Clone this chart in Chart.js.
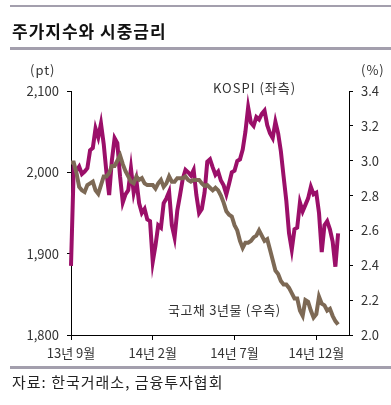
<!DOCTYPE html>
<html>
<head>
<meta charset="utf-8">
<script src="https://cdn.jsdelivr.net/npm/chart.js@4/dist/chart.umd.min.js"></script>
<style>
  body { margin: 0; background: #fff; }
  #wrap { position: relative; width: 391px; height: 405px; font-family: 'Noto Sans CJK KR', sans-serif; color: #222; }
  #chart { position: absolute; left: 0; top: 0; }
  .rule { position: absolute; left: 10px; right: 0; background: #a39fad; }
  .txt { position: absolute; white-space: nowrap; line-height: 1; }
</style>
</head>
<body>
<div id="wrap">
  <canvas id="chart" width="391" height="405"></canvas>
  <div class="rule" style="top:5px;height:2px"></div>
  <div class="txt" style="left:12px;top:22px;font-size:17px;font-weight:bold;color:#111;letter-spacing:1px">주가지수와 시중금리</div>
  <div class="rule" style="top:47px;height:3px"></div>
  <div class="txt" style="left:30px;top:63px;font-size:13px;color:#333;letter-spacing:1px">(pt)</div>
  <div class="txt" style="left:361px;top:63px;font-size:13px;color:#333;letter-spacing:1px">(%)</div>
  <div class="txt" style="left:213px;top:81px;font-size:13px;color:#333;letter-spacing:1px">KOSPI (좌측)</div>
  <div class="txt" style="left:168px;top:303px;font-size:13px;color:#333;letter-spacing:0.6px">국고채 3년물 (우측)</div>
  <div class="rule" style="top:366px;height:3px"></div>
  <div class="txt" style="left:12px;top:374px;font-size:15px;color:#222;letter-spacing:1px">자료: 한국거래소, 금융투자협회</div>
</div>
<script>
// --------------------------------
// Data
// --------------------------------

// x axis: Sep 2013 .. Feb 2015, six slots per month
const months = ['2013-09', '2013-10', '2013-11', '2013-12', '2014-01', '2014-02', '2014-03', '2014-04', '2014-05',
    '2014-06', '2014-07', '2014-08', '2014-09', '2014-10', '2014-11', '2014-12', '2015-01', '2015-02'];
const slotDays = ['01', '06', '11', '16', '21', '26'];
const categories = [];
for (let m = 0; m < months.length - 1; m++) {
    for (let d = 0; d < slotDays.length; d++) {
        categories.push(months[m] + '-' + slotDays[d]);
    }
}
categories.push(months[months.length - 1] + '-01');

const tickLabels = ['13년 9월', '14년 2월', '14년 7월', '14년 12월'];
const tickEvery = 30;

// KOSPI (pt, left axis)
const kospi = [
    1885, 2005, 2002, 2007, 1998, 2001, 2005, 2027, 2030, 2054,
    2043, 2060, 2035, 2000, 1972, 2015, 2042, 2036, 1995, 1963,
    1973, 1978, 2005, 1975, 1990, 1962, 1950, 1955, 1942, 1940,
    1890, 1910, 1935, 1932, 1962, 1968, 1976, 1935, 1920, 1953,
    1972, 1992, 2003, 2000, 1996, 2003, 1972, 1950, 1955, 1975,
    2013, 2016, 2006, 1997, 2001, 1990, 1984, 1973, 1986, 2000,
    2002, 2014, 2016, 2028, 2050, 2080, 2061, 2057, 2068, 2065,
    2072, 2076, 2058, 2048, 2042, 2062, 2048, 2026, 1995, 1965,
    1925, 1905, 1930, 1932, 1963, 1952, 1960, 1968, 1982, 1973,
    1975, 1950, 1902, 1935, 1940, 1930, 1915, 1884, 1925
];

// 3-year treasury yield (%, right axis)
const bond3y = [
    2.99, 2.99, 2.93, 2.85, 2.83, 2.82, 2.86, 2.87, 2.88, 2.83,
    2.81, 2.86, 2.91, 2.91, 2.93, 2.97, 2.97, 3.00, 3.03, 2.98,
    2.94, 2.91, 2.88, 2.87, 2.91, 2.89, 2.90, 2.87, 2.86, 2.86,
    2.86, 2.84, 2.87, 2.89, 2.85, 2.87, 2.91, 2.88, 2.88, 2.90,
    2.90, 2.90, 2.91, 2.89, 2.88, 2.89, 2.89, 2.89, 2.87, 2.855,
    2.86, 2.845, 2.83, 2.845, 2.83, 2.80, 2.76, 2.71, 2.69, 2.68,
    2.63, 2.60, 2.54, 2.50, 2.53, 2.53, 2.54, 2.56, 2.57, 2.60,
    2.57, 2.54, 2.55, 2.49, 2.43, 2.37, 2.35, 2.31, 2.29, 2.29,
    2.27, 2.24, 2.21, 2.21, 2.14, 2.11, 2.20, 2.19, 2.14, 2.10,
    2.12, 2.22, 2.18, 2.17, 2.14, 2.15, 2.11, 2.08, 2.06
];

// --------------------------------
// Chart
// --------------------------------

const tickFont = { family: "'Noto Sans CJK KR', sans-serif", size: 13 };

const chart = new Chart(document.getElementById('chart'), {
    type: 'line',
    data: {
        labels: categories,
        datasets: [{
            label: '국고채 3년물',
            data: bond3y,
            yAxisID: 'yR',
            borderColor: '#7d6955',
            borderWidth: 4,
            pointRadius: 0,
            order: 0
        }, {
            label: 'KOSPI',
            data: kospi,
            yAxisID: 'yL',
            borderColor: '#9b0f69',
            borderWidth: 4,
            pointRadius: 0,
            order: 1
        }]
    },
    options: {
        responsive: false,
        animation: false,
        layout: { padding: { top: 91, left: 0, right: 0, bottom: 0 } },
        plugins: {
            legend: { display: false },
            tooltip: { enabled: false }
        },
        scales: {
            x: {
                type: 'category',
                offset: false,
                border: { display: true, color: '#000', width: 1 },
                grid: { drawOnChartArea: false, color: '#000', tickLength: 5 },
                ticks: {
                    autoSkip: false,
                    maxRotation: 0,
                    color: '#333',
                    font: tickFont,
                    padding: 5,
                    callback: function(value, index) {
                        return index % tickEvery === 0 ? tickLabels[index / tickEvery] : null;
                    }
                },
                afterFit: function(scale) { scale.height = 70; }
            },
            yL: {
                position: 'left',
                min: 1800,
                max: 2100,
                border: { display: true, color: '#000', width: 1 },
                grid: { drawOnChartArea: false, color: '#000', tickLength: 4 },
                ticks: {
                    stepSize: 100,
                    color: '#333',
                    font: tickFont,
                    padding: 8,
                    callback: function(x) { return x.toLocaleString('en-US'); }
                },
                afterFit: function(scale) { scale.width = 71; }
            },
            yR: {
                position: 'right',
                min: 2.0,
                max: 3.4,
                border: { display: true, color: '#000', width: 1 },
                grid: { drawOnChartArea: false, color: '#000', tickLength: 4 },
                ticks: {
                    stepSize: 0.2,
                    color: '#333',
                    font: tickFont,
                    padding: 8,
                    callback: function(x) { return x.toFixed(1); }
                },
                afterFit: function(scale) { scale.width = 42; }
            }
        }
    }
});
</script>
</body>
</html>
